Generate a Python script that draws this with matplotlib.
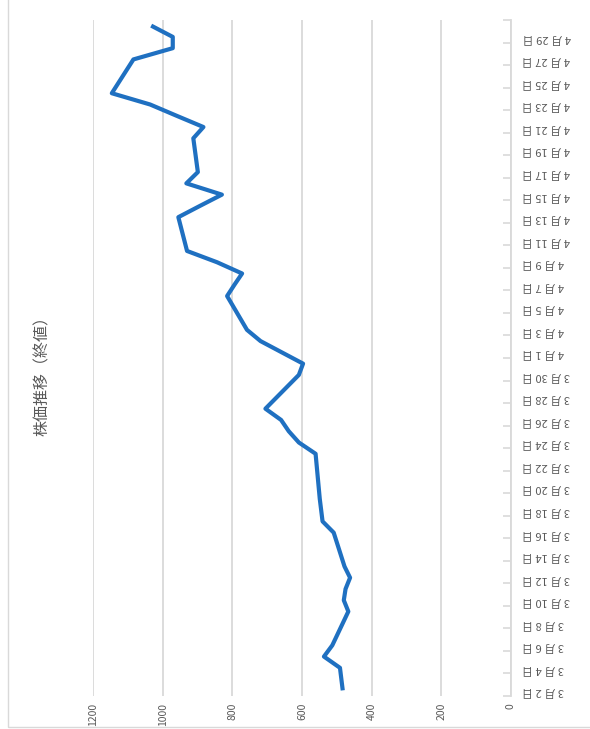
import matplotlib
matplotlib.use("Agg")
import matplotlib.pyplot as plt
import matplotlib.dates as mdates
from matplotlib.ticker import FixedLocator, NullFormatter, FixedFormatter
import pandas as pd
from datetime import timedelta

plt.rcParams['font.family'] = ['Noto Sans CJK JP', 'DejaVu Sans']

# ---- data ----
dates = ["2020-03-02", "2020-03-03", "2020-03-04", "2020-03-05", "2020-03-06",
         "2020-03-09", "2020-03-10", "2020-03-11", "2020-03-12", "2020-03-13",
         "2020-03-16", "2020-03-17", "2020-03-18", "2020-03-19", "2020-03-23",
         "2020-03-24", "2020-03-25", "2020-03-26", "2020-03-27", "2020-03-30",
         "2020-03-31", "2020-04-01", "2020-04-02", "2020-04-03", "2020-04-06",
         "2020-04-07", "2020-04-08", "2020-04-09", "2020-04-10", "2020-04-13",
         "2020-04-14", "2020-04-15", "2020-04-16", "2020-04-17", "2020-04-20",
         "2020-04-21", "2020-04-22", "2020-04-23", "2020-04-24", "2020-04-27",
         "2020-04-28", "2020-04-29", "2020-04-30"]
closing = [483, 487, 491, 537, 513,
           467, 480, 475, 462, 478,
           509, 541, 545, 549, 561,
           609, 638, 660, 705, 609,
           597, 658, 719, 758, 815,
           794, 772, 844, 930, 955,
           893, 830, 932, 899, 912,
           883, 960, 1036, 1146, 1084,
           971, 971, 1033]

label_dates = ["2020-03-02", "2020-03-04", "2020-03-06", "2020-03-08", "2020-03-10",
               "2020-03-12", "2020-03-14", "2020-03-16", "2020-03-18", "2020-03-20",
               "2020-03-22", "2020-03-24", "2020-03-26", "2020-03-28", "2020-03-30",
               "2020-04-01", "2020-04-03", "2020-04-05", "2020-04-07", "2020-04-09",
               "2020-04-11", "2020-04-13", "2020-04-15", "2020-04-17", "2020-04-19",
               "2020-04-21", "2020-04-23", "2020-04-25", "2020-04-27", "2020-04-29"]
date_labels = ["3 月 2 日", "3 月 4 日", "3 月 6 日", "3 月 8 日", "3 月 10 日",
               "3 月 12 日", "3 月 14 日", "3 月 16 日", "3 月 18 日", "3 月 20 日",
               "3 月 22 日", "3 月 24 日", "3 月 26 日", "3 月 28 日", "3 月 30 日",
               "4 月 1 日", "4 月 3 日", "4 月 5 日", "4 月 7 日", "4 月 9 日",
               "4 月 11 日", "4 月 13 日", "4 月 15 日", "4 月 17 日", "4 月 19 日",
               "4 月 21 日", "4 月 23 日", "4 月 25 日", "4 月 27 日", "4 月 29 日"]
value_ticks = [0, 200, 400, 600, 800, 1000, 1200]
value_labels = ["0", "200", "400", "600", "800", "1000", "1200"]
title = "株価推移（終値）"

# ---- figure ----
W, H = 590, 729
fig = plt.figure(figsize=(W / 100, H / 100), dpi=100)
ax = fig.add_axes([93 / W, 1 - 696 / H, (511 - 93) / W, (696 - 20) / H])

d = pd.to_datetime(dates)
ax.plot(closing, d, color='#1F70C1', lw=3.0, solid_joinstyle='round',
        solid_capstyle='butt', zorder=3)

ax.set_xlim(1200, 0)
start = pd.to_datetime(label_dates[0]) - timedelta(hours=12)
end = pd.to_datetime(dates[-1]) + timedelta(hours=12)
ax.set_ylim(mdates.date2num(start), mdates.date2num(end))

# value axis
ax.xaxis.set_major_locator(FixedLocator(value_ticks))
ax.xaxis.set_major_formatter(FixedFormatter(value_labels))
ax.tick_params(axis='x', length=0, pad=5, labelsize=7.5, labelcolor='#595959',
               labelrotation=90)
ax.grid(axis='x', color='#D9D9D9', lw=1.3)

# date axis on the right
ax.yaxis.tick_right()
ld = mdates.date2num(pd.to_datetime(label_dates))
bounds = [x - 0.5 for x in ld] + [ld[-1] + 1.5]
ax.yaxis.set_major_locator(FixedLocator(bounds))
ax.yaxis.set_major_formatter(NullFormatter())
ax.yaxis.set_minor_locator(FixedLocator(ld))
ax.yaxis.set_minor_formatter(FixedFormatter(date_labels))
ax.tick_params(axis='y', which='major', direction='in', length=6, width=1.2,
               color='#D9D9D9')
ax.tick_params(axis='y', which='minor', length=0, pad=8, labelsize=8,
               labelcolor='#595959')
for lab in ax.yaxis.get_minorticklabels():
    lab.set_rotation(180)

for s in ['top', 'left', 'bottom']:
    ax.spines[s].set_visible(False)
ax.spines['right'].set_color('#D9D9D9')
ax.spines['right'].set_linewidth(1.3)

fig.text(42 / W, 1 - 372 / H, title, rotation=90, ha='center', va='center',
         fontsize=11.5, color='#595959')

# chart border (left and bottom edges visible)
fig.patches.append(plt.Rectangle((8 / W, 2 / H), 1.2, 1.2, transform=fig.transFigure,
                                 fill=False, edgecolor='#D9D9D9', lw=1.0))

fig.savefig("out.png", dpi=100)
